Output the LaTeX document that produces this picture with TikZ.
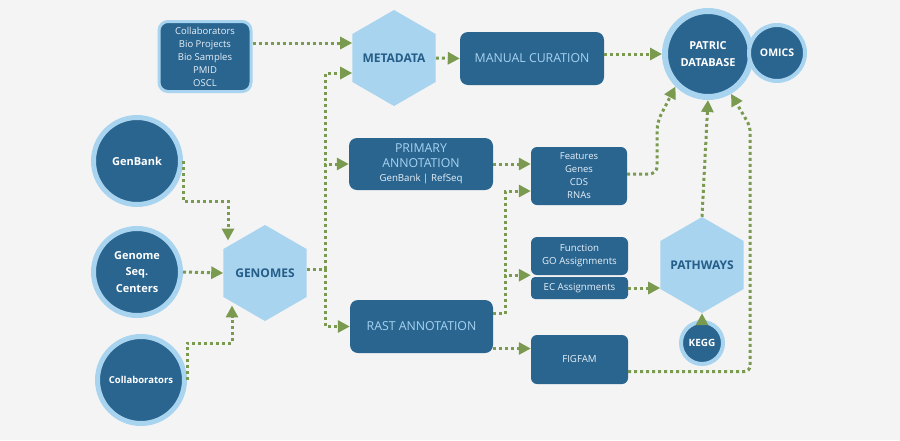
\documentclass[tikz,border=0pt]{standalone}
\usepackage{fontspec}
\setmainfont{Open Sans}
\usetikzlibrary{shapes.geometric,calc,arrows.meta}
\definecolor{bgcol}{HTML}{F4F4F4}
\definecolor{boxblue}{HTML}{2A6590}
\definecolor{skyblue}{HTML}{A8D4EF}
\definecolor{hexink}{HTML}{245D87}
\definecolor{flowgreen}{HTML}{7A9B4F}
\definecolor{boxink}{HTML}{A6D3F2}
\definecolor{smallink}{HTML}{E6F0F8}
\newcommand{\hexlabel}[1]{\makebox[0pt]{#1}}
\tikzset{>={Triangle[length=12pt,width=12pt]},
  flow/.style={->,flowgreen,line width=3pt,dash pattern=on 3pt off 3pt},
  hexa/.style={regular polygon,regular polygon sides=6,shape border rotate=90,
    fill=skyblue,minimum size=96pt,inner sep=0pt,text=hexink,
    font=\bfseries\fontsize{12}{14}\selectfont},
  source/.style={circle,fill=boxblue,draw=skyblue,line width=5pt,
    minimum size=87pt,inner sep=0pt,text=white,align=center,
    font=\bfseries\fontsize{11}{16.5}\selectfont},
  bigbox/.style={rectangle,rounded corners=8pt,fill=boxblue,
    minimum width=144pt,minimum height=53pt,text=boxink,align=center,
    font=\fontsize{12.3}{15}\selectfont},
  smallbox/.style={rectangle,rounded corners=6pt,fill=boxblue,
    minimum width=97pt,text=smallink,align=center,
    font=\fontsize{9.7}{13}\selectfont}}

\begin{document}
\begin{tikzpicture}[x=1pt,y=-1pt]
\fill[bgcol] (0,0) rectangle (900,440);
\useasboundingbox (0,0) rectangle (900,440);

% sources
\node[source] (genbank) at (137,161) {GenBank};
\node[source] (genseq) at (137,272) {Genome\\Seq.\\Centers};
\node[source,font=\bfseries\fontsize{9.5}{12}\selectfont] (collabs) at (141,380) {Collaborators};
\node[smallbox,draw=skyblue,line width=3pt,rounded corners=9pt,
  minimum width=92pt,minimum height=70pt,font=\fontsize{9.5}{13}\selectfont]
  (collab) at (205,56.5) {Collaborators\\Bio Projects\\Bio Samples\\PMID\\OSCL};

% hexagons
\node[hexa] (genomes) at (265,273) {\hexlabel{GENOMES}};
\node[hexa] (meta) at (394,58) {\hexlabel{METADATA}};
\node[hexa] (pathways) at (702,265) {\hexlabel{PATHWAYS}};

% boxes
\node[bigbox] (manual) at (532,58.5) {MANUAL CURATION};
\node[bigbox,minimum height=52pt] (primary) at (421,164)
  {PRIMARY\\ANNOTATION\\[-1pt]{\color{smallink}\fontsize{9.7}{12}\selectfont GenBank | RefSeq}};
\node[bigbox,minimum width=143pt] (rast) at (421.5,326.5) {RAST ANNOTATION};
\node[smallbox,minimum width=96pt,minimum height=58pt,font=\fontsize{9.5}{13}\selectfont]
  (features) at (579,176) {Features\\Genes\\CDS\\RNAs};
\node[smallbox,minimum height=38pt] (func) at (579.5,256) {Function\\GO Assignments};
\node[smallbox,minimum height=22pt,rounded corners=4pt] (ec) at (579.5,288) {EC Assignments};
\node[smallbox,minimum height=49pt] (figfam) at (579.5,359.5) {FIGFAM};

% database
\node[source,line width=6pt,minimum size=86pt] (patric) at (708,54) {PATRIC\\DATABASE};
\node[source,line width=4pt,minimum size=56pt,font=\bfseries\fontsize{10.5}{13}\selectfont]
  (omics) at (777,53) {OMICS};
\node[source,line width=4pt,minimum size=42pt,font=\bfseries\fontsize{10}{12}\selectfont]
  (kegg) at (702,343) {KEGG};

% flows into genomes
\draw[flow] (genbank.east) -- ++(0,40) -- ++(45,0) coordinate (gbturn)
  -- (gbturn |- genomes.130);
\draw[flow] (genseq.east) -- (genomes.180);
\draw[flow] (collabs.east) -- ++(0,-37) -- ++(45,0) coordinate (cbturn)
  -- (cbturn |- genomes.230);

% genomes split
\draw[flowgreen,line width=3pt,dash pattern=on 3pt off 3pt]
  ($(genomes.0)+(0,-4)$) -- ++(19,0) coordinate (gsplit);
\coordinate (mlow) at ($(meta.180)+(0,15)$);
\coordinate (mtop) at ($(meta.180)+(0,-15)$);
\draw[flow] (gsplit) |- (mlow);
\draw[flow] (gsplit) |- (primary.west);
\draw[flow] (gsplit) |- (rast.west);
\draw[flow] (collab.east |- mtop) -- (mtop);
\draw[flow] (meta.0) -- (manual.west);
\draw[flow] (manual.east |- patric.west) -- (patric.west);

% annotation outputs
\draw[flow] (primary.east) -- (features.west |- primary.east);
\draw[flowgreen,line width=3pt,dash pattern=on 3pt off 3pt]
  ($(rast.east)+(0,-13)$) -- ++(12,0) coordinate (rsplit);
\draw[flow] (rsplit) |- ($(features.west)+(0,15)$);
\draw[flow] (rsplit) |- (func.south west);
\draw[flow] ($(rast.east)+(0,22)$) coordinate (rf) -- (figfam.west |- rf);
\draw[flow] (ec.east) -- (pathways.180 |- ec.east);
\draw[flow] (kegg.north) -- (pathways.south);

% into the database
\draw[flow,rounded corners=8pt] ($(features.east)+(0,-2)$) -- ++(30,0) -- ++(0,-52)
  -- (patric.225);
\draw[flow] (pathways.north) -- (patric.south);
\draw[flow,rounded corners=6pt] ($(figfam.east)+(0,12)$) -- ++(122,0) -- ++(0,-245)
  -- (patric.300);
\end{tikzpicture}
\end{document}
